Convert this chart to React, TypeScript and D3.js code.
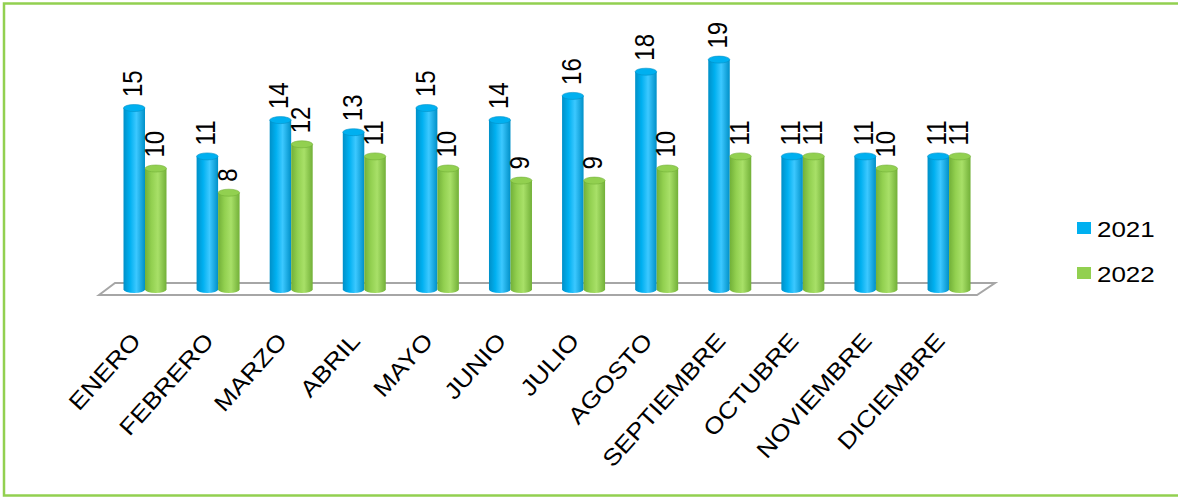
import React from 'react';
import * as d3 from 'd3';

const months = ['ENERO','FEBRERO','MARZO','ABRIL','MAYO','JUNIO','JULIO','AGOSTO','SEPTIEMBRE','OCTUBRE','NOVIEMBRE','DICIEMBRE'];
const seriesNames = ['2021','2022'];
const values2021 = [15,11,14,13,15,14,16,18,19,11,11,11];
const values2022 = [10,8,12,11,10,9,9,10,11,11,10,11];
const seriesColors = ['#00B0F0','#92D050'];
const seriesDark = ['#0090C8','#72B038'];
const seriesLight = ['#3CC8FF','#A8E068'];

const W = 1178, H = 497;

export default function App() {
  const x = d3.scalePoint<string>().domain(months).range([108.45, 985.6]).padding(0.5);
  const inner = d3.scaleBand<string>().domain(seriesNames).range([-21.5, 21.5]).paddingInner(0);
  const y = d3.scaleLinear().domain([0, 20]).range([289.5, 47.5]);
  const data = [values2021, values2022];
  const bw = inner.bandwidth();
  const ry = 3.5;

  return (
    <svg width={W} height={H} style={{ position: 'fixed', left: 0, top: 0, background: '#fff' }} fontFamily="'Liberation Sans', Arial, sans-serif">
      <defs>
        {seriesNames.map((s, i) => (
          <linearGradient key={s} id={`g${i}`} x1="0" x2="1" y1="0" y2="0">
            <stop offset="0" stopColor={seriesDark[i]} />
            <stop offset="0.3" stopColor={seriesColors[i]} />
            <stop offset="0.6" stopColor={seriesLight[i]} />
            <stop offset="1" stopColor={seriesDark[i]} />
          </linearGradient>
        ))}
      </defs>
      <rect x={0} y={0} width={W} height={H} fill="#fff" />
      <rect x={4} y={3.5} width={W + 10} height={492} fill="none" stroke="#92D050" strokeWidth={2.5} />
      {/* floor */}
      <polygon points="99,295 115,283 995,283 977,295" fill="#fff" stroke="#A6A6A6" strokeWidth={2} />
      {/* bars */}
      {months.map((m, mi) => (
        <g key={m}>
          {seriesNames.map((s, si) => {
            const cx = (x(m) as number) + (inner(s) as number) + bw / 2;
            const x0 = cx - bw / 2;
            const yt = y(data[si][mi]);
            const yb = y(0);
            return (
              <g key={s}>
                <path d={`M${x0},${yt} L${x0},${yb} A${bw / 2},${ry} 0 0 0 ${x0 + bw},${yb} L${x0 + bw},${yt} Z`} fill={`url(#g${si})`} />
                <ellipse cx={cx} cy={yt} rx={bw / 2} ry={ry} fill={seriesColors[si]} stroke={seriesDark[si]} strokeWidth={0.6} />
                <text transform={`translate(${cx + 8},${yt - 11}) rotate(-90) scale(1,1.15)`} fontSize={24} fill="#000">{data[si][mi]}</text>
              </g>
            );
          })}
          <text transform={`translate(${(x(m) as number) - 3},${342}) rotate(-48) scale(1.15,1)`} textAnchor="end" fontSize={23} fill="#000">{m}</text>
        </g>
      ))}
      {/* legend */}
      {seriesNames.map((s, i) => (
        <g key={s} transform={`translate(1077,${222 + i * 45})`}>
          <rect x={0} y={0} width={14} height={12} fill={seriesColors[i]} />
          <text x={20} y={15} fontSize={22} fill="#000" transform="scale(1.18,1)" style={{ transformOrigin: '20px 0px' }}>{s}</text>
        </g>
      ))}
    </svg>
  );
}
